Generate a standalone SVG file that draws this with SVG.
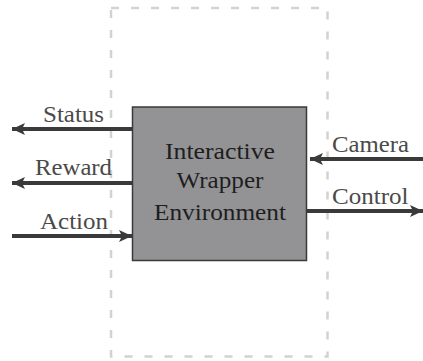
<svg xmlns="http://www.w3.org/2000/svg" width="423" height="361" viewBox="0 0 423 361">
  <style>
    .frame { fill: none; stroke: #d2d2d2; stroke-width: 2.5; stroke-dasharray: 8 12; }
    .box { fill: #939395; stroke: #3a3a3a; stroke-width: 1.5; }
    .wire { stroke: #3a3a3a; stroke-width: 4; fill: none; marker-end: url(#head); }
    .lbl { font-family: "Liberation Serif", "Times New Roman", serif; font-size: 23px; fill: #4a4a4a; }
    .core { font-family: "Liberation Serif", "Times New Roman", serif; font-size: 23px; fill: #1e1e1e; text-anchor: middle; }
  </style>
  <defs>
    <marker id="head" markerUnits="userSpaceOnUse" markerWidth="14" markerHeight="12" refX="13" refY="6" orient="auto">
      <path d="M0,0 L13,6 L0,12 L3,6 Z" fill="#3a3a3a"/>
    </marker>
  </defs>

  <!-- wrapper boundary -->
  <rect class="frame" x="111" y="8" width="216.5" height="348.5"/>

  <g id="env">
    <rect class="box" x="132.5" y="107" width="174" height="153.5"/>
    <text class="core" x="220" y="158.5" textLength="110" lengthAdjust="spacingAndGlyphs">Interactive</text>
    <text class="core" x="220" y="188" textLength="87" lengthAdjust="spacingAndGlyphs">Wrapper</text>
    <text class="core" x="220" y="220" textLength="132" lengthAdjust="spacingAndGlyphs">Environment</text>
  </g>

  <g id="connectors">
    <line class="wire" x1="132" y1="129" x2="12" y2="129"/>
    <line class="wire" x1="132" y1="183" x2="12" y2="183"/>
    <line class="wire" x1="12" y1="236" x2="132" y2="236"/>
    <line class="wire" x1="423" y1="159" x2="310" y2="159"/>
    <line class="wire" x1="307" y1="211" x2="423" y2="211"/>
  </g>

  <g id="status"><text class="lbl" x="43" y="121.5" textLength="61" lengthAdjust="spacingAndGlyphs">Status</text></g>
  <g id="reward"><text class="lbl" x="35" y="175" textLength="77" lengthAdjust="spacingAndGlyphs">Reward</text></g>
  <g id="action"><text class="lbl" x="40" y="228.5" textLength="68" lengthAdjust="spacingAndGlyphs">Action</text></g>
  <g id="camera"><text class="lbl" x="332" y="151.5" textLength="77" lengthAdjust="spacingAndGlyphs">Camera</text></g>
  <g id="control"><text class="lbl" x="332" y="203.5" textLength="76.5" lengthAdjust="spacingAndGlyphs">Control</text></g>
</svg>
